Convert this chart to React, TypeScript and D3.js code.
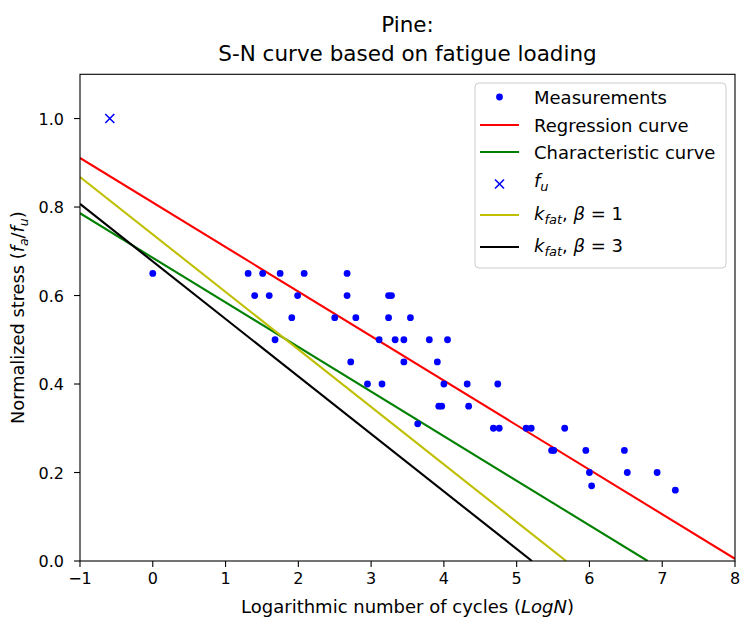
import React from "react";
import * as d3 from "d3";

// ---------- data ----------
const measX = [
  0, 1.31, 1.51, 1.75, 2.08, 2.67,
  1.4, 1.6, 1.99, 2.67, 3.24, 3.28,
  1.91, 2.5, 2.79, 3.24, 3.54,
  1.68, 3.11, 3.33, 3.45, 3.8, 4.05,
  2.72, 3.45, 3.91,
  2.95, 3.15, 4.0, 4.32, 4.74,
  3.93, 3.97, 4.34,
  3.64,
  4.68, 4.76, 5.13, 5.2, 5.66,
  5.48, 5.51, 5.95, 6.48,
  6.0, 6.52, 6.93,
  6.03, 7.18,
];
const measY = [
  0.65, 0.65, 0.65, 0.65, 0.65, 0.65,
  0.6, 0.6, 0.6, 0.6, 0.6, 0.6,
  0.55, 0.55, 0.55, 0.55, 0.55,
  0.5, 0.5, 0.5, 0.5, 0.5, 0.5,
  0.45, 0.45, 0.45,
  0.4, 0.4, 0.4, 0.4, 0.4,
  0.35, 0.35, 0.35,
  0.31,
  0.3, 0.3, 0.3, 0.3, 0.3,
  0.25, 0.25, 0.25, 0.25,
  0.2, 0.2, 0.2,
  0.17, 0.16,
];
const fuPoint = { x: -0.59, y: 1.0 };

const regressionX = [-1, 8];
const regressionY = [0.911, 0.005];
const characteristicX = [-1, 6.8];
const characteristicY = [0.786, 0];
const kfat1X = [-1, 5.68];
const kfat1Y = [0.868, 0];
const kfat3X = [-1, 5.21];
const kfat3Y = [0.807, 0];

const xTicks = [-1, 0, 1, 2, 3, 4, 5, 6, 7, 8];
const yTicks = [0.0, 0.2, 0.4, 0.6, 0.8, 1.0];

// ---------- layout ----------
const W = 740;
const H = 618;
const L = 80, R = 735, T = 74.3, B = 561;
const FONT = "'DejaVu Sans', sans-serif";

export default function App() {
  const x = d3.scaleLinear().domain([-1, 8]).range([L, R]);
  const y = d3.scaleLinear().domain([0, 1.1]).range([B, T]);
  const line = d3
    .line<[number, number]>()
    .x((d) => x(d[0]))
    .y((d) => y(d[1]));
  const pts = (xs: number[], ys: number[]) =>
    xs.map((v, i) => [v, ys[i]] as [number, number]);

  const curves = [
    { xs: regressionX, ys: regressionY, color: "#ff0000" },
    { xs: characteristicX, ys: characteristicY, color: "#008000" },
    { xs: kfat1X, ys: kfat1Y, color: "#bfbf00" },
    { xs: kfat3X, ys: kfat3Y, color: "#000000" },
  ];

  const cross = (cx: number, cy: number, s: number, color: string, key?: string) => (
    <g key={key} stroke={color} strokeWidth={1.6}>
      <line x1={cx - s} y1={cy - s} x2={cx + s} y2={cy + s} />
      <line x1={cx - s} y1={cy + s} x2={cx + s} y2={cy - s} />
    </g>
  );

  // legend
  const lgX = 475, lgY = 83, lgW = 251, lgH = 185;
  const hx1 = 480, hx2 = 519, tx = 534;
  const rows = [97, 125, 152, 184, 215, 247];
  const fs = 18;

  return (
    <div style={{ margin: 0 }}>
      <svg width={W} height={H} style={{ position: "absolute", left: 0, top: 0, background: "#fff" }} fontFamily={FONT}>
        <rect x={0} y={0} width={W} height={H} fill="#fff" />
        <defs>
          <clipPath id="plotclip">
            <rect x={L} y={T} width={R - L} height={B - T} />
          </clipPath>
        </defs>

        {/* title */}
        <text x={(L + R) / 2} y={32} textAnchor="middle" fontSize={21.5} fill="#000">Pine:</text>
        <text x={(L + R) / 2} y={61} textAnchor="middle" fontSize={21.5} fill="#000">S-N curve based on fatigue loading</text>

        {/* data */}
        <g clipPath="url(#plotclip)">
          {curves.map((c, i) => (
            <path key={i} d={line(pts(c.xs, c.ys)) || ""} fill="none" stroke={c.color} strokeWidth={2.1} />
          ))}
          {measX.map((v, i) => (
            <circle key={i} cx={x(v)} cy={y(measY[i])} r={3.4} fill="#0000ff" />
          ))}
          {cross(x(fuPoint.x), y(fuPoint.y), 4.5, "#0000ff")}
        </g>

        {/* frame */}
        <rect x={L} y={T} width={R - L} height={B - T} fill="none" stroke="#000" strokeWidth={1.1} />

        {/* x ticks */}
        {xTicks.map((t) => (
          <g key={t}>
            <line x1={x(t)} x2={x(t)} y1={B} y2={B + 6} stroke="#000" strokeWidth={1.1} />
            <text x={x(t)} y={584} textAnchor="middle" fontSize={16} fill="#000">
              {t < 0 ? "\u2212" + Math.abs(t) : String(t)}
            </text>
          </g>
        ))}
        {/* y ticks */}
        {yTicks.map((t) => (
          <g key={t}>
            <line x1={L - 6} x2={L} y1={y(t)} y2={y(t)} stroke="#000" strokeWidth={1.1} />
            <text x={64} y={y(t) + 6} textAnchor="end" fontSize={16} fill="#000">
              {d3.format(".1f")(t)}
            </text>
          </g>
        ))}

        {/* axis labels */}
        <text x={(L + R) / 2} y={613} textAnchor="middle" fontSize={18} fill="#000">
          Logarithmic number of cycles (<tspan fontStyle="italic">LogN</tspan>)
        </text>
        <text transform={`translate(24,${(T + B) / 2}) rotate(-90)`} textAnchor="middle" fontSize={17.8} fill="#000">
          Normalized stress (<tspan fontStyle="italic">f</tspan>
          <tspan fontStyle="italic" fontSize={12.5} dy={4}>a</tspan>
          <tspan dy={-4}>/</tspan>
          <tspan fontStyle="italic">f</tspan>
          <tspan fontStyle="italic" fontSize={12.5} dy={4}>u</tspan>
          <tspan dy={-4}>)</tspan>
        </text>

        {/* legend */}
        <rect x={lgX} y={lgY} width={lgW} height={lgH} rx={4} fill="#fff" fillOpacity={0.8} stroke="#cccccc" strokeWidth={1} />
        <circle cx={(hx1 + hx2) / 2} cy={rows[0]} r={3.4} fill="#0000ff" />
        <line x1={hx1} x2={hx2} y1={rows[1]} y2={rows[1]} stroke="#ff0000" strokeWidth={2.1} />
        <line x1={hx1} x2={hx2} y1={rows[2]} y2={rows[2]} stroke="#008000" strokeWidth={2.1} />
        {cross((hx1 + hx2) / 2, rows[3], 4.5, "#0000ff")}
        <line x1={hx1} x2={hx2} y1={rows[4]} y2={rows[4]} stroke="#bfbf00" strokeWidth={2.1} />
        <line x1={hx1} x2={hx2} y1={rows[5]} y2={rows[5]} stroke="#000000" strokeWidth={2.1} />

        <text x={tx} y={rows[0] + 6.5} fontSize={fs} fill="#000">Measurements</text>
        <text x={tx} y={rows[1] + 6.5} fontSize={fs} fill="#000">Regression curve</text>
        <text x={tx} y={rows[2] + 6.5} fontSize={fs} fill="#000">Characteristic curve</text>
        <text x={tx} y={rows[3] + 3} fontSize={fs} fill="#000">
          <tspan fontStyle="italic">f</tspan>
          <tspan fontStyle="italic" fontSize={13} dy={4}>u</tspan>
        </text>
        <text x={tx} y={rows[4] + 5} fontSize={fs} fill="#000">
          <tspan fontStyle="italic">k</tspan>
          <tspan fontStyle="italic" fontSize={13} dy={4}>fat</tspan>
          <tspan dy={-4}>, </tspan>
          <tspan fontStyle="italic">β</tspan>
          <tspan> = 1</tspan>
        </text>
        <text x={tx} y={rows[5] + 5} fontSize={fs} fill="#000">
          <tspan fontStyle="italic">k</tspan>
          <tspan fontStyle="italic" fontSize={13} dy={4}>fat</tspan>
          <tspan dy={-4}>, </tspan>
          <tspan fontStyle="italic">β</tspan>
          <tspan> = 3</tspan>
        </text>
      </svg>
    </div>
  );
}
